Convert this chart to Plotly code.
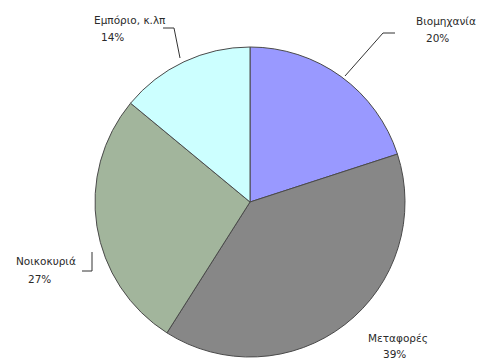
import plotly.graph_objects as go

# Energy consumption share by sector
sectors = ["Βιομηχανία", "Μεταφορές", "Νοικοκυριά", "Εμπόριο, κ.λπ"]
shares = [20, 39, 27, 14]
colors = ["#9999ff", "#878787", "#a2b59c", "#ccffff"]

W, H = 482, 361


def px(x, y):
    """Convert pixel position (from top-left) to paper coordinates."""
    return x / W, 1 - y / H


# label centres (pixels) for the sector name and its percentage
name_pos = [(446, 21), (398, 338), (46, 261), (130, 20)]
pct_pos = [(437, 38), (394, 354), (39, 279), (112, 37)]
# leader-line paths per sector
leaders = [
    [(395, 33), (383, 33), (345, 76)],
    None,
    [(82, 271), (92, 271), (92, 252)],
    [(163, 28), (174, 28), (180, 58)],
]

cx, cy, r = 250, 202, 155
x0, y1 = px(cx - r, cy - r)
x1, y0 = px(cx + r, cy + r)

fig = go.Figure(
    go.Pie(
        labels=sectors,
        values=shares,
        sort=False,
        direction="clockwise",
        rotation=0,
        marker=dict(colors=colors, line=dict(color="#4a4a4a", width=1)),
        textinfo="none",
        hoverinfo="label+percent",
        domain=dict(x=[x0, x1], y=[y0, y1]),
        showlegend=False,
    )
)

font = dict(family="DejaVu Sans, Verdana, sans-serif", size=10.5, color="#2a2a2a")
annotations = []
shapes = []
for name, val, npos, ppos, path in zip(sectors, shares, name_pos, pct_pos, leaders):
    for txt, (lx, ly) in ((name, npos), (f"{val}%", ppos)):
        ax, ay = px(lx, ly)
        annotations.append(
            dict(x=ax, y=ay, xref="paper", yref="paper", text=txt,
                 showarrow=False, font=font, xanchor="center", yanchor="middle")
        )
    if path:
        for (xa, ya), (xb, yb) in zip(path[:-1], path[1:]):
            pa, qa = px(xa, ya)
            pb, qb = px(xb, yb)
            shapes.append(
                dict(type="line", xref="paper", yref="paper",
                     x0=pa, y0=qa, x1=pb, y1=qb,
                     line=dict(color="#333333", width=1))
            )

fig.update_layout(
    width=W, height=H,
    margin=dict(l=0, r=0, t=0, b=0),
    paper_bgcolor="white",
    plot_bgcolor="white",
    annotations=annotations,
    shapes=shapes,
)

fig.write_html("out.html")
